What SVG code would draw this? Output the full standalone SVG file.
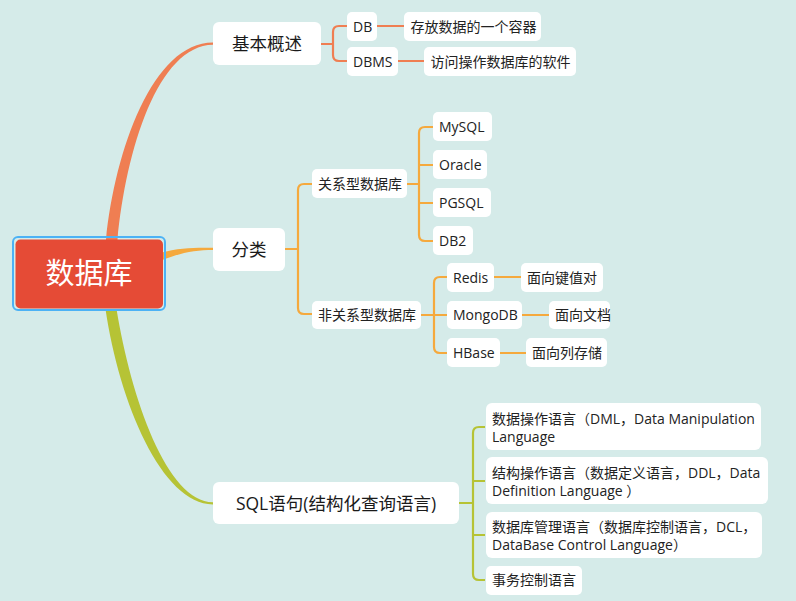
<svg xmlns="http://www.w3.org/2000/svg" width="796" height="601" viewBox="0 0 796 601">
<style>
.bg{fill:#d5ebe9}
.box{fill:#ffffff}
.t{font-family:"Open Sans","Noto Sans CJK SC",sans-serif;font-size:14px;fill:#222222}
.m{font-family:"Open Sans","Noto Sans CJK SC",sans-serif;font-size:17.5px;fill:#1a1a1a;font-weight:400}
.r{font-family:"Noto Sans CJK SC",sans-serif;font-size:29px;fill:#ffffff;font-weight:400}
.c1{fill:none;stroke:#ef7e52;stroke-width:2.2}
.c2{fill:none;stroke:#f5a93d;stroke-width:2.2}
.c3{fill:none;stroke:#b6c335;stroke-width:2.2}
</style>
<rect class="bg" x="0" y="0" width="796" height="601"/>
<g id="connectors">
  <path d="M106,240 C115,150 153,42.5 213,42.6 L213,44.8 C158,45.5 126,150 117.5,240 Z" fill="#ef7e52"/>
  <path d="M160,253 C180,247.5 195,247.6 213,247.8 L213,250 C196,250.2 182,252 160,261 Z" fill="#f5a93d"/>
  <path d="M105.5,309 C119,402 162,504.5 213,504.4 L213,502.2 C167,502 131,398 116.5,309 Z" fill="#b6c335"/>
  <path class="c1" d="M321,44 H333 M347,26 H339 Q333,26 333,32 V55 Q333,61 339,61 H347"/>
  <path class="c1" d="M377,26 H404 M398,61 H424"/>
  <path class="c2" d="M285,249 H298 M312,184 H304 Q298,184 298,190 V308 Q298,314 304,314 H312"/>
  <path class="c2" d="M407,184 H419 M433,127 H425 Q419,127 419,133 V235 Q419,241 425,241 H433 M419,165 H433 M419,203 H433"/>
  <path class="c2" d="M421,315 H447 M447,277 H440 Q434,277 434,283 V347 Q434,353 440,353 H447"/>
  <path class="c2" d="M494,277 H521 M522,315 H549 M500,353 H526"/>
  <path class="c3" d="M459,503 H473 M485,427 H479 Q473,427 473,433 V574 Q473,580 479,580 H485 M473,481 H485 M473,535 H485"/>
</g>
<g id="root">
  <rect x="13" y="237" width="152" height="73" rx="5" fill="none" stroke="#4cb2f5" stroke-width="2"/>
  <rect x="15.5" y="239.5" width="147.5" height="69" rx="5" fill="#e54b36"/>
  <text class="r" x="89" y="284" text-anchor="middle">数据库</text>
</g>
<g id="n-jbgs">
  <rect class="box" x="213" y="22" width="108" height="43" rx="6"/>
  <text class="m" x="267" y="50" text-anchor="middle">基本概述</text>
</g>
<g id="n-db">
  <rect class="box" x="347" y="12" width="30" height="29" rx="5"/>
  <text class="t" x="353" y="31.5">DB</text>
</g>
<g id="n-db-desc">
  <rect class="box" x="404" y="12" width="137" height="29" rx="5"/>
  <text class="t" x="410.5" y="31.5">存放数据的一个容器</text>
</g>
<g id="n-dbms">
  <rect class="box" x="347" y="47" width="51" height="29" rx="5"/>
  <text class="t" x="353" y="66.5">DBMS</text>
</g>
<g id="n-dbms-desc">
  <rect class="box" x="424" y="47" width="152" height="29" rx="5"/>
  <text class="t" x="430.5" y="66.5">访问操作数据库的软件</text>
</g>
<g id="n-fl">
  <rect class="box" x="213" y="228" width="72" height="43" rx="6"/>
  <text class="m" x="249" y="255.5" text-anchor="middle">分类</text>
</g>
<g id="n-gx">
  <rect class="box" x="312" y="169" width="95" height="29" rx="5"/>
  <text class="t" x="318" y="188.5">关系型数据库</text>
</g>
<g id="n-mysql">
  <rect class="box" x="433" y="112" width="59" height="29" rx="5"/>
  <text class="t" x="439" y="131.5">MySQL</text>
</g>
<g id="n-oracle">
  <rect class="box" x="433" y="150" width="54" height="29" rx="5"/>
  <text class="t" x="439" y="169.5">Oracle</text>
</g>
<g id="n-pgsql">
  <rect class="box" x="433" y="188" width="58" height="29" rx="5"/>
  <text class="t" x="439" y="207.5">PGSQL</text>
</g>
<g id="n-db2">
  <rect class="box" x="433" y="226" width="40" height="29" rx="5"/>
  <text class="t" x="439" y="245.5">DB2</text>
</g>
<g id="n-fgx">
  <rect class="box" x="312" y="301" width="109" height="28" rx="5"/>
  <text class="t" x="318" y="320">非关系型数据库</text>
</g>
<g id="n-redis">
  <rect class="box" x="447" y="263" width="47" height="29" rx="5"/>
  <text class="t" x="453" y="282.5">Redis</text>
</g>
<g id="n-redis-desc">
  <rect class="box" x="521" y="263" width="82" height="29" rx="5"/>
  <text class="t" x="527" y="282.5">面向键值对</text>
</g>
<g id="n-mongo">
  <rect class="box" x="447" y="301" width="75" height="28" rx="5"/>
  <text class="t" x="453" y="320">MongoDB</text>
</g>
<g id="n-mongo-desc">
  <rect class="box" x="549" y="301" width="61" height="28" rx="5"/>
  <text class="t" x="555" y="320">面向文档</text>
</g>
<g id="n-hbase">
  <rect class="box" x="447" y="338" width="53" height="29" rx="5"/>
  <text class="t" x="453" y="357.5">HBase</text>
</g>
<g id="n-hbase-desc">
  <rect class="box" x="526" y="338" width="81" height="29" rx="5"/>
  <text class="t" x="532" y="357.5">面向列存储</text>
</g>
<g id="n-sql">
  <rect class="box" x="213" y="482" width="246" height="42" rx="6"/>
  <text class="m" x="336" y="509.5" text-anchor="middle">SQL语句(结构化查询语言)</text>
</g>
<g id="n-dml">
  <rect class="box" x="486" y="403" width="275" height="47" rx="6"/>
  <text class="t" x="492" y="423.5">数据操作语言（DML，Data Manipulation</text>
  <text class="t" x="492" y="441.5">Language</text>
</g>
<g id="n-ddl">
  <rect class="box" x="486" y="457" width="282" height="47" rx="6"/>
  <text class="t" x="492" y="477.5">结构操作语言（数据定义语言，DDL，Data</text>
  <text class="t" x="492" y="495.5">Definition Language ）</text>
</g>
<g id="n-dcl">
  <rect class="box" x="486" y="512" width="276" height="46" rx="6"/>
  <text class="t" x="492" y="532">数据库管理语言（数据库控制语言，DCL，</text>
  <text class="t" x="492" y="550">DataBase Control Language）</text>
</g>
<g id="n-tcl">
  <rect class="box" x="486" y="566" width="96" height="29" rx="5"/>
  <text class="t" x="492" y="585">事务控制语言</text>
</g>
</svg>
